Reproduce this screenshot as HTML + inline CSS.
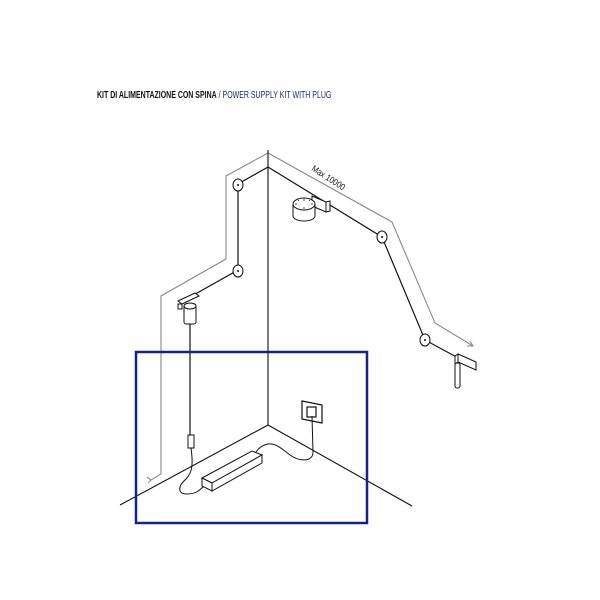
<!DOCTYPE html>
<html><head><style>
body{margin:0;background:#fff;}
svg{display:block}
</style></head><body>
<svg width="600" height="600" viewBox="0 0 600 600" xmlns="http://www.w3.org/2000/svg">
<rect width="600" height="600" fill="#fff"/>
<text x="97" y="98" font-family="Liberation Sans, sans-serif" font-size="10" transform="translate(97 0) scale(0.7 1) translate(-97 0)"><tspan font-weight="bold" fill="#111">KIT DI ALIMENTAZIONE CON SPINA</tspan><tspan fill="#1a2a6a"> / POWER SUPPLY KIT WITH PLUG</tspan></text>

<g fill="none" stroke="#8a8a8a" stroke-width="1.1">
<polyline points="268,153 226,176 226,259 161,296 161,474 151,480"/>
<polyline points="147,477 151,480 148,483"/>
<polyline points="268,153 392,222 435,323 473,346"/>
<polyline points="467,346 473,346 470,341"/>
</g>
<text x="0" y="0" font-family="Liberation Sans, sans-serif" font-size="9" fill="#111" transform="translate(311 170) rotate(33) scale(0.85 1)">Max 10000</text>

<g stroke="#111" stroke-width="1.1" fill="none">
<line x1="268" y1="150" x2="268" y2="425"/>
<line x1="268" y1="425" x2="120" y2="505"/>
<line x1="268" y1="425" x2="412" y2="506"/>
</g>
<g stroke="#111" stroke-width="1.2" fill="none">
<polyline points="268,167 238,184 238,270 190,297"/>
<polyline points="268,167 382,237 425,340 462,360"/>
<line x1="190" y1="320" x2="190" y2="436"/>
</g>
<g stroke="#111" stroke-width="1" fill="#fff">
<ellipse cx="238" cy="185" rx="5" ry="6"/>
<ellipse cx="238" cy="271" rx="5" ry="6"/>
<ellipse cx="382" cy="237" rx="5" ry="6"/>
<ellipse cx="425" cy="340" rx="5" ry="6"/>
</g>
<g fill="#111"><circle cx="238" cy="185" r="1"/><circle cx="238" cy="271" r="1"/><circle cx="382" cy="237" r="1"/><circle cx="425" cy="340" r="1"/></g>
<g stroke="#111" stroke-width="1" fill="#fff">
<polygon points="178,301 195,293 199,296 182,304"/>
<rect x="178" y="304" width="4" height="5"/>
<rect x="184" y="305" width="12" height="19" rx="2"/>
<ellipse cx="190" cy="306" rx="6" ry="3"/>
</g>
<g stroke="#111" stroke-width="1" fill="#fff">
<polygon points="312,196 326,202 326,212 312,206"/>
<polygon points="326,202 330,201 330,211 326,212"/>
<path d="M293,204 v12 a11,5 0 0 0 22,0 v-12"/>
<ellipse cx="304" cy="204" rx="11" ry="6"/>
</g>
<g stroke="#111" stroke-width="0.8"><line x1="304" y1="199" x2="304" y2="201"/><line x1="304" y1="207" x2="304" y2="209"/><line x1="295" y1="204" x2="297" y2="204"/><line x1="311" y1="204" x2="313" y2="204"/><line x1="298" y1="200" x2="299" y2="201"/><line x1="310" y1="200" x2="309" y2="201"/></g>
<g stroke="#111" stroke-width="1" fill="#fff">
<polygon points="458,354 476,362 476,370 458,362"/>
<polygon points="455,356 458,354 458,362 455,364"/>
<rect x="455" y="363" width="5" height="25" rx="2"/>
</g>
<rect x="136" y="352" width="231" height="171" fill="none" stroke="#14238c" stroke-width="2.5"/>
<g stroke="#111" stroke-width="1.2" fill="#fff">
<polygon points="302,401 322,405 322,423 302,419"/>
<rect x="307" y="407" width="9" height="10"/>
</g>
<g stroke="#111" stroke-width="1" fill="none">
<path d="M312,416 L313,452 C313,462 300,462 290,455 C282,449 276,443 268,444 C262,445 258,449 256,452"/>
<rect x="188" y="435" width="6" height="13" fill="#fff"/>
<path d="M191,448 C193,462 193,472 186,479 C177,487 178,494 187,494 C196,494 200,490 204,486"/>
</g>
<g stroke="#111" stroke-width="1" fill="#fff">
<polygon points="202,478 252,451 262,455 212,483"/>
<polygon points="212,483 262,455 262,463 212,491"/>
<polygon points="202,478 212,483 212,491 202,486"/>
</g>
</svg>
</body></html>
